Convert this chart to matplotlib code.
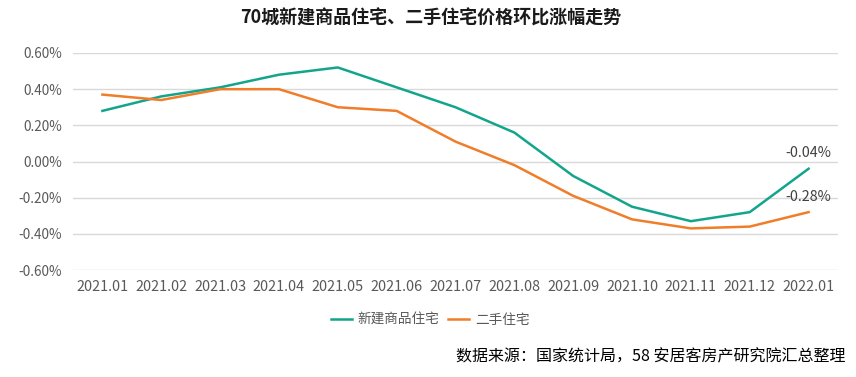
import matplotlib
matplotlib.use("Agg")
import matplotlib.pyplot as plt
from matplotlib.ticker import FuncFormatter

plt.rcParams['font.family'] = ['Noto Sans CJK SC', 'DejaVu Sans']

months = ["2021.01", "2021.02", "2021.03", "2021.04", "2021.05", "2021.06", "2021.07",
          "2021.08", "2021.09", "2021.10", "2021.11", "2021.12", "2022.01"]
new_homes = [0.28, 0.36, 0.41, 0.48, 0.52, 0.41, 0.30, 0.16, -0.08, -0.25, -0.33, -0.28, -0.04]
second_hand = [0.37, 0.34, 0.40, 0.40, 0.30, 0.28, 0.11, -0.02, -0.19, -0.32, -0.37, -0.36, -0.28]
series_names = ["新建商品住宅", "二手住宅"]
yticks = [-0.6, -0.4, -0.2, 0.0, 0.2, 0.4, 0.6]

green = "#13a58c"
orange = "#f07d2a"
text_c = "#595959"

fig = plt.figure(figsize=(8.56, 3.77), dpi=100)
ax = fig.add_axes([73/856, 1 - 270/377, (838-73)/856, (270-53)/377])

x = list(range(len(months)))
l1, = ax.plot(x, new_homes, color=green, lw=1.8, label=series_names[0])
l2, = ax.plot(x, second_hand, color=orange, lw=1.8, label=series_names[1])

ax.set_xlim(-0.5, len(months) - 0.5)
ax.set_ylim(-0.6, 0.6)
ax.set_yticks(yticks)
ax.yaxis.set_major_formatter(FuncFormatter(lambda v, p: f"{v:.2f}%"))
ax.set_xticks(x)
ax.set_xticklabels(months)
ax.tick_params(axis='both', length=0, colors=text_c)
ax.tick_params(axis='x', labelsize=10.4, pad=7)
ax.tick_params(axis='y', labelsize=9.8, pad=8)
ax.grid(axis='y', color="#d9d9d9", lw=1)
ax.set_axisbelow(True)
for s in ax.spines.values():
    s.set_visible(False)

ax.annotate(f"{new_homes[-1]:.2f}%", (x[-1], new_homes[-1]), xytext=(0, 16),
            textcoords="offset pixels", ha="center", va="center", fontsize=10.3, color="#404040")
ax.annotate(f"{second_hand[-1]:.2f}%", (x[-1], second_hand[-1]), xytext=(0, 15),
            textcoords="offset pixels", ha="center", va="center", fontsize=10.3, color="#404040")

fig.text(431/856, 1 - 18/377, "70城新建商品住宅、二手住宅价格环比涨幅走势", ha="center", va="center",
         fontsize=13, fontweight="bold", color="#1a1a1a")

fig.legend(handles=[l1, l2], loc="center", bbox_to_anchor=(430/856, 1 - 320/377), ncol=2,
           frameon=False, fontsize=9.8, labelcolor=text_c, handlelength=1.6, handletextpad=0.4,
           columnspacing=0.6)

fig.text(845/856, 1 - 357/377, "数据来源：国家统计局，58 安居客房产研究院汇总整理", ha="right", va="center",
         fontsize=11.5, color="#000000")

fig.savefig("out.png", dpi=100)
